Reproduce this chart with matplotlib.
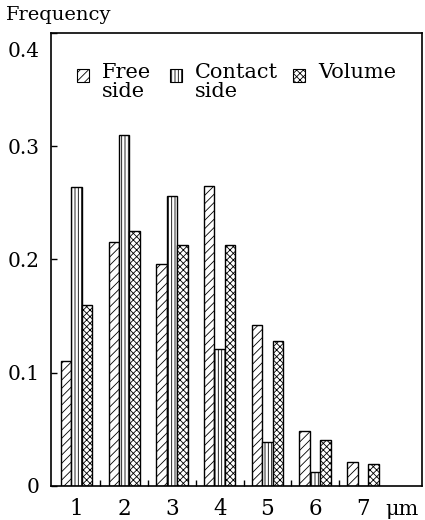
import numpy as np
import matplotlib.pyplot as plt
from matplotlib.patches import Rectangle
from matplotlib.transforms import ScaledTranslation

plt.rcParams['font.family'] = 'DejaVu Serif'
plt.rcParams['hatch.linewidth'] = 0.6

# 粒徑分布 (μm) 與各組頻率
sizes = [1, 2, 3, 4, 5, 6, 7]
free_side = [0.110, 0.215, 0.196, 0.265, 0.142, 0.048, 0.021]
contact_side = [0.264, 0.310, 0.256, 0.121, 0.039, 0.012, 0.0]
volume = [0.160, 0.225, 0.213, 0.213, 0.128, 0.040, 0.019]
y_ticks = [0, 0.1, 0.2, 0.3, 0.4]
y_labels = ['0', '0.1', '0.2', '0.3', '0.4']

series = [
    ('Free\nside', free_side, '////'),
    ('Contact\nside', contact_side, '|||||'),
    ('Volume', volume, 'xxxxx'),
]

fig = plt.figure(figsize=(4.25, 5.2), dpi=100)
ax = fig.add_axes([0.12, 0.066, 0.873, 0.8705])

x = np.array(sizes, dtype=float)
w = 0.22
for i, (label, vals, hatch) in enumerate(series):
    ax.bar(x + (i - 1) * w, vals, width=w, color='white', edgecolor='black',
           linewidth=1.0, hatch=hatch)

ax.set_xlim(0.465, 8.24)
ax.set_ylim(0, 0.4)

# x 軸：數字標在組中央，刻度線畫在組與組之間
ax.set_xticks(sizes)
ax.set_xticklabels([str(s) for s in sizes])
ax.set_xticks(x[:-1] + 0.5, minor=True)
ax.tick_params(axis='x', which='major', length=0, pad=9, labelsize=15.5)
ax.tick_params(axis='x', which='minor', direction='in', length=4.5, width=1.0)

ax.set_yticks(y_ticks)
ax.set_yticklabels(y_labels)
ax.tick_params(axis='y', direction='in', length=4, width=1.0, pad=8, labelsize=14.5)
# 最上面的 0.4 往下移一點
top_lbl = ax.get_yticklabels()[-1]
top_lbl.set_transform(top_lbl.get_transform() + ScaledTranslation(0, -12 / 72, fig.dpi_scale_trans))

for sp in ax.spines.values():
    sp.set_linewidth(1.2)

ax.text(7.82, -0.0256, 'μm', ha='center', va='baseline', fontsize=15)
fig.text(0.014, 0.972, 'Frequency', ha='left', va='center', fontsize=14)

# 圖例：手動畫，方塊對齊第一行文字
leg_x = [0.07, 0.321, 0.652]
for lx, (label, vals, hatch) in zip(leg_x, series):
    ax.add_patch(Rectangle((lx, 0.8925), 0.032, 0.029, transform=ax.transAxes,
                           facecolor='white', edgecolor='black', linewidth=0.8,
                           hatch=hatch, clip_on=False))
    ax.text(lx + 0.068, 0.933, label, transform=ax.transAxes, ha='left', va='top',
            fontsize=15, linespacing=0.95)

fig.savefig('out.png', dpi=100)
